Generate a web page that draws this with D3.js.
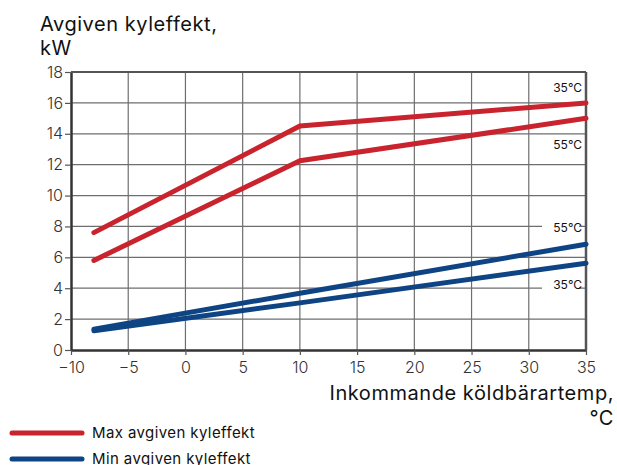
<!DOCTYPE html>
<html lang="sv">
<head>
    <meta charset="UTF-8">
    <title>Avgiven kyleffekt</title>
    <script src="https://d3js.org/d3.v7.min.js"></script>
    <style>
        body { margin: 0; background: #fff; font-family: Inter, Roboto, "Noto Sans", Arial, sans-serif; }
        svg { display: block; }
    </style>
</head>
<body>
    <div id="chart"></div>

    <script>
        // Data
        const temps = [-8, 10, 35];
        const maxAt35 = [7.6, 14.5, 16.0];
        const maxAt55 = [5.8, 12.25, 15.0];
        const minAt55 = [1.35, 3.68, 6.85];
        const minAt35 = [1.25, 3.05, 5.62];
        const xTicks = [-10, -5, 0, 5, 10, 15, 20, 25, 30, 35];
        const yTicks = [0, 2, 4, 6, 8, 10, 12, 14, 16, 18];

        const series = [
            {name: "max35", values: maxAt35, color: "#c9232e", label: "35°C", labelY: 17},
            {name: "max55", values: maxAt55, color: "#c9232e", label: "55°C", labelY: 13.3},
            {name: "min55", values: minAt55, color: "#0f4484", label: "55°C", labelY: 7.9},
            {name: "min35", values: minAt35, color: "#0f4484", label: "35°C", labelY: 4.2}
        ];
        const legend = [
            {text: "Max avgiven kyleffekt", color: "#c9232e"},
            {text: "Min avgiven kyleffekt", color: "#0f4484"}
        ];

        const width = 617, height = 465;
        const margin = {top: 72, right: 31, bottom: 115, left: 71};
        const w = width - margin.left - margin.right;
        const h = height - margin.top - margin.bottom;
        const font = "Inter, Roboto, sans-serif";

        const svg = d3.select("#chart").append("svg")
            .attr("width", width)
            .attr("height", height)
            .style("font-family", font);

        const g = svg.append("g")
            .attr("transform", `translate(${margin.left},${margin.top})`);

        const x = d3.scaleLinear().domain([-10, 35]).range([0, w]);
        const y = d3.scaleLinear().domain([0, 18]).range([h, 0]);

        // grid
        g.append("g").selectAll("line").data(xTicks.slice(1, -1)).enter().append("line")
            .attr("x1", d => x(d)).attr("x2", d => x(d))
            .attr("y1", 0).attr("y2", h)
            .attr("stroke", "#6e6e6e").attr("stroke-width", 1.2);
        g.append("g").selectAll("line").data(yTicks.slice(1, -1)).enter().append("line")
            .attr("x1", 0).attr("x2", w)
            .attr("y1", d => y(d)).attr("y2", d => y(d))
            .attr("stroke", "#6e6e6e").attr("stroke-width", 1.2);

        // axes
        const xAxis = g.append("g")
            .attr("transform", `translate(0,${h})`)
            .call(d3.axisBottom(x).tickValues(xTicks).tickSize(5).tickSizeOuter(0)
                .tickFormat(d => d < 0 ? "\u2212" + Math.abs(d) : d));
        const yAxis = g.append("g")
            .call(d3.axisLeft(y).tickValues(yTicks).tickSize(6).tickSizeOuter(0));

        [xAxis, yAxis].forEach(a => {
            a.select(".domain").attr("stroke", "#333").attr("stroke-width", 2.5);
            a.selectAll(".tick line").attr("stroke", "#555").attr("stroke-width", 1.2);
            a.selectAll(".tick text").attr("fill", "#333")
                .style("font-size", "16px").style("font-family", font).style("font-weight", 300);
        });
        xAxis.selectAll(".tick text").attr("dy", "0.95em");
        yAxis.selectAll(".tick text").attr("x", -8);

        // top and right frame
        g.append("line").attr("x1", 0).attr("x2", w).attr("y1", 0).attr("y2", 0)
            .attr("stroke", "#555").attr("stroke-width", 2);
        g.append("line").attr("x1", w).attr("x2", w).attr("y1", 0).attr("y2", h)
            .attr("stroke", "#555").attr("stroke-width", 2.5);

        // series labels with white background
        series.forEach(s => {
            const lbl = g.append("g")
                .attr("transform", `translate(${w - 4},${y(s.labelY)})`);
            lbl.append("rect")
                .attr("x", -40).attr("y", -9).attr("width", 37).attr("height", 18)
                .attr("fill", "#fff");
            lbl.append("text")
                .attr("text-anchor", "end")
                .attr("dy", "0.35em")
                .attr("fill", "#111")
                .style("font-size", "12px")
                .text(s.label);
        });

        // lines
        const line = d3.line()
            .x((d, i) => x(temps[i]))
            .y(d => y(d));

        series.forEach(s => {
            g.append("path")
                .datum(s.values)
                .attr("fill", "none")
                .attr("stroke", s.color)
                .attr("stroke-width", 5)
                .attr("stroke-linecap", "round")
                .attr("stroke-linejoin", "round")
                .attr("d", line);
        });

        // axis titles
        const titles = [
            {text: "Avgiven kyleffekt,", x: 40, y: 31, anchor: "start"},
            {text: "kW", x: 40, y: 55, anchor: "start"},
            {text: "Inkommande köldbärartemp,", x: 614, y: 400, anchor: "end"},
            {text: "°C", x: 614, y: 425, anchor: "end"}
        ];
        svg.append("g").selectAll("text").data(titles).enter().append("text")
            .attr("x", d => d.x).attr("y", d => d.y)
            .attr("text-anchor", d => d.anchor)
            .attr("fill", "#111").style("font-size", "20px")
            .style("letter-spacing", "0.55px")
            .text(d => d.text);

        // legend
        const leg = svg.append("g").selectAll("g").data(legend).enter().append("g")
            .attr("transform", (d, i) => `translate(12,${433 + i * 26})`);
        leg.append("line")
            .attr("x1", 0).attr("x2", 70).attr("y1", 0).attr("y2", 0)
            .attr("stroke", d => d.color).attr("stroke-width", 5)
            .attr("stroke-linecap", "round");
        leg.append("text")
            .attr("x", 80).attr("dy", "0.35em")
            .attr("fill", "#111").style("font-size", "15px")
            .style("letter-spacing", "0.4px")
            .text(d => d.text);
    </script>
</body>
</html>
